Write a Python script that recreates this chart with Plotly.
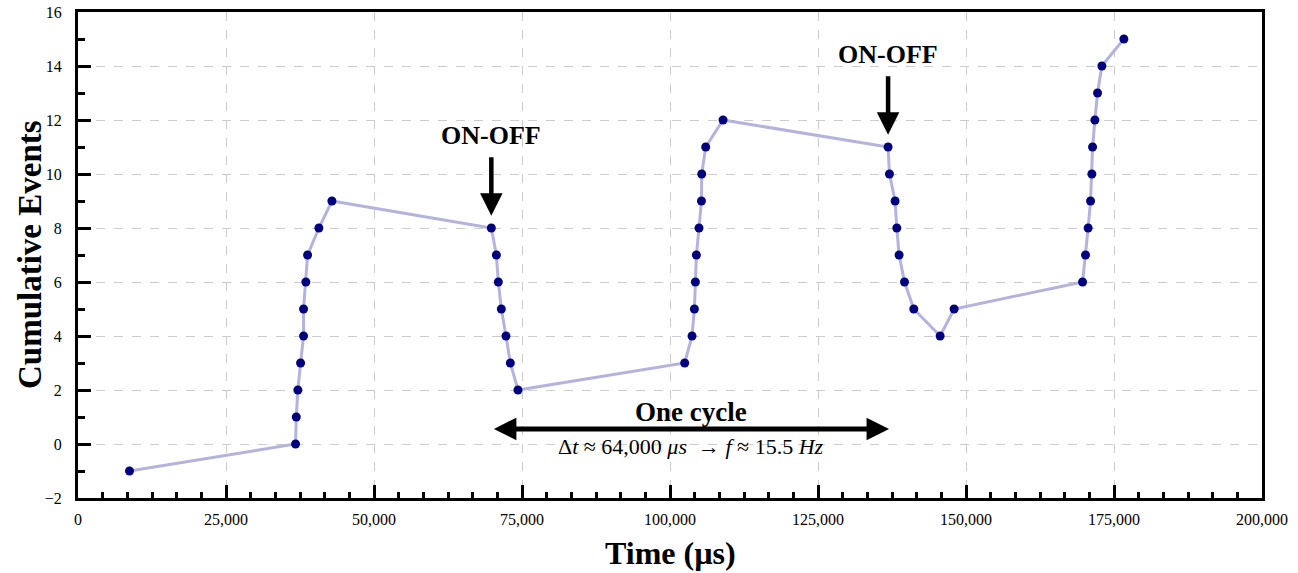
import plotly.graph_objects as go

time_us = [8700, 36750, 36870, 37140, 37600, 38100, 38100, 38490, 38780, 40690, 42890,
           69820, 70670, 71000, 71510, 72290, 73030, 74320,
           102480, 103720, 104120, 104290, 104460, 104900, 105310, 105360, 106030, 108960,
           136840, 137070, 138020, 138310, 138700, 139610, 141180, 145630, 147990,
           169690, 170190, 170630, 171040, 171260, 171380, 171770, 172220, 172950, 176670]
events = [-1, 0, 1, 2, 3, 4, 5, 6, 7, 8, 9,
          8, 7, 6, 5, 4, 3, 2,
          3, 4, 5, 6, 7, 8, 9, 10, 11, 12,
          11, 10, 9, 8, 7, 6, 5, 4, 5,
          6, 7, 8, 9, 10, 11, 12, 13, 14, 15]

x_ticks = [0, 25000, 50000, 75000, 100000, 125000, 150000, 175000, 200000]
y_ticks = [-2, 0, 2, 4, 6, 8, 10, 12, 14, 16]

onoff_x = [69820, 136840]
onoff_y = [8, 11]
cycle_start, cycle_end, cycle_y = 70000, 137000, 0.56

serif = "Liberation Serif, Times New Roman, serif"

fig = go.Figure()
fig.add_trace(go.Scatter(
    x=time_us, y=events, mode="lines+markers",
    line=dict(color="#b3b3de", width=3),
    marker=dict(color="#00007f", size=9, line=dict(width=0)),
    showlegend=False, cliponaxis=False))

for xv, yv in zip(onoff_x, onoff_y):
    fig.add_annotation(x=xv, y=yv + 0.45, xref="x", yref="y",
                       ax=0, ay=-60, axref="pixel", ayref="pixel",
                       showarrow=True, arrowhead=2, arrowsize=1.0, arrowwidth=4.5,
                       arrowcolor="black", text="")
    fig.add_annotation(x=xv, y=yv + 0.45, xref="x", yref="y", yshift=80,
                       showarrow=False, text="<b>ON-OFF</b>",
                       font=dict(family=serif, size=26, color="black"))

fig.add_annotation(x=cycle_end, y=cycle_y, ax=cycle_start, ay=cycle_y,
                   xref="x", yref="y", axref="x", ayref="y",
                   showarrow=True, arrowhead=2, startarrowhead=2, arrowside="end+start",
                   arrowsize=0.9, startarrowsize=0.9, arrowwidth=5, arrowcolor="black", text="")
fig.add_annotation(x=(cycle_start + cycle_end) / 2, y=cycle_y, xref="x", yref="y", yshift=17,
                   showarrow=False, text="<b>One cycle</b>",
                   font=dict(family=serif, size=27, color="black"))
fig.add_annotation(x=(cycle_start + cycle_end) / 2, y=cycle_y, xref="x", yref="y", yshift=-18,
                   showarrow=False,
                   text="Δ<i>t</i> ≈ 64,000 <i>μs</i>  → <i>f</i> ≈ 15.5 <i>Hz</i>",
                   font=dict(family=serif, size=22, color="black"))

# axis titles
fig.add_annotation(xref="paper", yref="paper", x=-48 / 1184, y=0.5, xanchor="center",
                   yanchor="middle", textangle=-90, showarrow=False,
                   text="<b>Cumulative Events</b>",
                   font=dict(family=serif, size=33, color="black"))
fig.add_annotation(xref="paper", yref="paper", x=0.5, y=0, yshift=-55, xanchor="center",
                   yanchor="middle", showarrow=False, text="<b>Time (µs)</b>",
                   font=dict(family=serif, size=32, color="black"))

axis_common = dict(showline=True, linecolor="black", linewidth=3, mirror=True,
                   ticks="inside", tickcolor="black", tickwidth=2.5, ticklen=13,
                   showgrid=True, gridcolor="#cccccc", griddash="dash", gridwidth=1,
                   zeroline=False, automargin=False, ticklabeloverflow="allow")

fig.update_xaxes(range=[0, 200000], tickvals=x_ticks,
                 ticktext=[f"{v:,}" for v in x_ticks], ticklabelstandoff=5,
                 tickfont=dict(family=serif, size=16, color="black"),
                 minor=dict(dtick=25000 / 6, tick0=0, ticks="inside", ticklen=6,
                            tickwidth=2.5, tickcolor="black", showgrid=False),
                 **axis_common)
fig.update_yaxes(range=[-2, 16], tickvals=y_ticks, ticklabelstandoff=10,
                 tickfont=dict(family=serif, size=16, color="black"),
                 minor=dict(dtick=1, tick0=0, ticks="inside", ticklen=7,
                            tickwidth=2.5, tickcolor="black", showgrid=False),
                 **axis_common)

fig.update_layout(width=1298, height=573, margin=dict(l=78, r=36, t=12, b=75),
                  plot_bgcolor="white", paper_bgcolor="white")

fig.write_html("out.html", config={"displayModeBar": False},
               post_script="document.body.style.margin='0';document.body.style.overflow='hidden';")
